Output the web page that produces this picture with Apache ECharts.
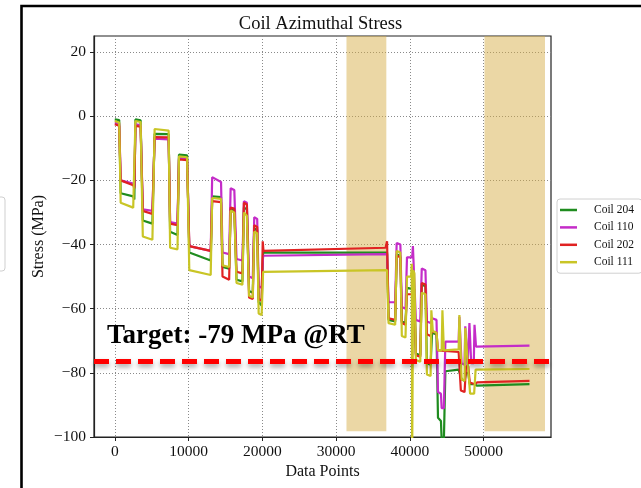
<!DOCTYPE html>
<html>
<head>
<meta charset="utf-8">
<script src="https://cdn.jsdelivr.net/npm/echarts@6/dist/echarts.min.js"></script>
<style>
  html, body { margin: 0; padding: 0; background: #fff; }
  #chart { width: 641px; height: 488px; }
</style>
</head>
<body>
<div id="chart"></div>
<script>
// ---- data ----
var seriesNames = ['Coil 204', 'Coil 110', 'Coil 202', 'Coil 111'];
var xTicks = [0, 10000, 20000, 30000, 40000, 50000];
var yTicks = [-100, -80, -60, -40, -20, 0, 20];
var shadedRanges = [[31400, 36800], [50100, 58300]];
var shadedTop = 25;
var shadedBottom = -98.2;
var targetValue = -76.5;

var coil204 = [
  [0,-1],[600,-1.2],
  [800,-24],[2500,-25],[2650,-26],
  [2800,-1],[3500,-1.3],
  [3800,-32.5],[5100,-33.5],
  [5400,-5.5],[7300,-5.6],
  [7500,-36],[8500,-37],
  [8700,-12],[9800,-12.2],
  [10100,-42.5],[13000,-45],
  [13200,-25],[14400,-25.2],
  [14600,-47],[15500,-47.5],
  [15700,-29],[16200,-29.2],
  [16500,-51],[17300,-51.5],
  [17500,-28.5],[17900,-29],
  [18200,-54.5],[18700,-55],
  [18900,-35],[19300,-35.5],
  [19500,-58],[19900,-59],
  [20100,-42.5],[36900,-42.5],
  [37100,-63.5],[38000,-64],
  [38200,-43],[38700,-43.5],
  [38900,-64],[39400,-64.5],
  [39600,-53.5],[40600,-54],
  [40800,-74],[41400,-74.5],
  [41600,-52.5],[42100,-53],
  [42300,-77],[42800,-77.5],
  [43000,-67.5],[43600,-68],
  [43800,-94],[44200,-95],[44300,-101],[44600,-101],
  [44800,-79.5],[46600,-79],
  [47000,-82],[47400,-82.5],
  [47600,-80],[47900,-80],
  [48100,-83.5],[48700,-83.5],
  [49100,-84],[56200,-83.5]
];
var coil110 = [
  [0,-2],[600,-2.3],
  [800,-20],[2500,-21],[2650,-22],
  [2800,-2.5],[3500,-2.8],
  [3800,-29],[5100,-29.5],
  [5400,-7],[7300,-7.2],
  [7500,-33],[8500,-33.5],
  [8700,-13],[9800,-13.2],
  [10100,-40.5],[13000,-42],
  [13200,-19],[14400,-20.5],
  [14600,-42.5],[15500,-43],
  [15700,-22.5],[16200,-23],
  [16500,-44.5],[17300,-45],
  [17500,-26.5],[17900,-27],
  [18200,-50],[18700,-50.5],
  [18900,-31.5],[19300,-32],
  [19500,-53],[19900,-53.5],
  [20100,-43.5],[36900,-43],
  [37100,-58],[38000,-58],
  [38200,-39.5],[38700,-40],
  [38900,-59.5],[39400,-60],
  [39600,-44],[40300,-44],[40400,-40.5],[40600,-40.5],
  [40800,-63.5],[41400,-64],
  [41600,-47.5],[42100,-48],
  [42300,-64],[42800,-64.5],
  [43000,-63],[43600,-63.5],
  [43800,-86],[44200,-86.5],[44300,-91],[44600,-91],
  [44800,-70.3],[46600,-70.3],
  [46700,-62.5],[46800,-63],
  [47000,-77],[47400,-77.5],
  [47500,-65.5],[47600,-66],
  [47800,-78],[47950,-78],
  [48060,-64.5],[48150,-65],
  [48300,-77],[48650,-77],
  [48750,-65],[48850,-65.5],
  [48950,-71.8],[56200,-71.5]
];
var coil202 = [
  [0,-2.5],[600,-3],
  [800,-20],[2500,-21.5],[2650,-22.5],
  [2800,-3],[3500,-3.3],
  [3800,-29.5],[5100,-30.5],
  [5400,-6.5],[7300,-6.6],
  [7500,-33.5],[8500,-34],
  [8700,-13.5],[9800,-13.7],
  [10100,-40.5],[13000,-42],
  [13200,-26.5],[14400,-26.8],
  [14600,-50],[15500,-51],
  [15700,-28.5],[16200,-28.8],
  [16500,-48.5],[17300,-49],
  [17500,-27],[17900,-27.5],
  [18200,-56.5],[18700,-57],
  [18900,-34],[19300,-34.5],
  [19500,-57],[19900,-57.5],
  [20050,-39],[20150,-42],[36700,-41],[36900,-39],
  [37100,-63],[38000,-63.5],
  [38200,-43.5],[38700,-44],
  [38900,-64.5],[39400,-65],
  [39600,-55.5],[40600,-55.5],
  [40800,-74.5],[41400,-75],
  [41600,-52],[42100,-52.5],
  [42300,-68],[42800,-68.5],
  [43000,-67],[43600,-67.5],
  [43800,-73],[46600,-73.5],
  [46900,-85.5],[47400,-86],
  [47600,-78],[47900,-78],
  [48100,-83],[48700,-83.5],
  [49100,-83],[56200,-82.5]
];
var coil111 = [
  [0,-1.5],[600,-2],
  [800,-27],[2500,-28.5],[2650,-29],
  [2800,-1.5],[3500,-1.8],
  [3800,-37.5],[5100,-38.5],
  [5400,-4],[7300,-4.5],
  [7500,-41],[8500,-41.5],
  [8700,-12.5],[9800,-12.8],
  [10100,-48],[13000,-49.5],
  [13200,-25.5],[14400,-25.8],
  [14600,-46.5],[15500,-47],
  [15700,-29.5],[16200,-30],
  [16500,-52],[17300,-52.5],
  [17500,-30],[17900,-31],
  [18200,-56],[18700,-56.5],
  [18900,-36],[19300,-36.5],
  [19500,-61.5],[19900,-62],
  [20100,-48.5],[36900,-48],
  [37100,-64.5],[38000,-65],
  [38200,-42],[38700,-42.5],
  [38900,-68.5],[39400,-69],
  [39600,-50],[40150,-50],[40250,-46],[40300,-106],[40400,-106],[40450,-48],[40600,-49],
  [40800,-76],[41400,-76.5],
  [41600,-55],[42100,-55.5],
  [42300,-80.5],[42800,-81],
  [42900,-60.5],[43000,-60.5],
  [43100,-67],[43600,-67.5],
  [43800,-73],[44300,-73],[44400,-60.5],[44500,-60.5],[44600,-73],
  [44800,-72.7],[46600,-72.7],
  [46700,-62],[46800,-62],
  [47000,-82],[47400,-82.5],
  [47500,-66],[47650,-66],
  [47800,-76],[48000,-76],
  [48150,-86.5],[48700,-86.5],
  [48900,-79],[56200,-78.8]
];
var seriesData = [coil204, coil110, coil202, coil111];
var seriesColors = ['#1f8c1f', '#c42cc8', '#e02222', '#c9c526'];

// ---- chart ----
var serif = '"Liberation Serif", "DejaVu Serif", serif';
var chart = echarts.init(document.getElementById('chart'), null, { renderer: 'canvas' });

var series = seriesNames.map(function (name, i) {
  return {
    name: name,
    type: 'line',
    data: seriesData[i],
    showSymbol: false,
    symbol: 'none',
    lineStyle: { width: 2.2, color: seriesColors[i] },
    itemStyle: { color: seriesColors[i] },
    z: 5 + i
  };
});
series[3].markLine = {
  silent: true,
  symbol: 'none',
  z: 12,
  label: { show: false },
  lineStyle: {
    color: '#ff0000', width: 5, type: [15, 7],
    shadowBlur: 5, shadowColor: 'rgba(0,0,0,0.35)', shadowOffsetY: 3
  },
  data: [{ yAxis: targetValue }]
};
series.unshift({
  name: 'shade',
  type: 'custom',
  z: 1,
  silent: true,
  clip: true,
  encode: { x: [0, 1] },
  data: shadedRanges,
  renderItem: function (params, api) {
    var p0 = api.coord([api.value(0), shadedTop]);
    var p1 = api.coord([api.value(1), shadedBottom]);
    return {
      type: 'rect',
      shape: { x: p0[0], y: p0[1], width: p1[0] - p0[0], height: p1[1] - p0[1] },
      style: { fill: 'rgba(214,172,66,0.48)' }
    };
  }
});

var minus = function (v) { return String(v).replace('-', '\u2212'); };

chart.setOption({
  animation: false,
  backgroundColor: '#fff',
  title: {
    text: 'Coil Azimuthal Stress',
    left: 'center',
    top: 10,
    textStyle: { fontFamily: serif, fontSize: 18.5, fontWeight: 'normal', color: '#111' }
  },
  legend: {
    orient: 'vertical',
    left: 557,
    top: 199,
    data: seriesNames,
    icon: 'rect',
    itemWidth: 17,
    itemHeight: 2.5,
    itemGap: 5.4,
    padding: [5, 8, 5, 3],
    backgroundColor: '#fff',
    borderColor: '#d0d0d0',
    borderWidth: 1,
    borderRadius: 3,
    textStyle: { fontFamily: serif, fontSize: 11.5, color: '#111', padding: [0, 0, 0, 12] }
  },
  grid: {
    left: 94, right: 90, top: 36, bottom: 51,
    show: true, borderColor: '#222', borderWidth: 1.2, backgroundColor: 'transparent'
  },
  xAxis: {
    type: 'value',
    min: -2815, max: 59115,
    name: 'Data Points',
    nameLocation: 'middle',
    nameGap: 27,
    nameMoveOverlap: false,
    nameTextStyle: { fontFamily: serif, fontSize: 16, color: '#111' },
    axisLine: { show: true, onZero: false, lineStyle: { color: '#222', width: 1.2 } },
    axisTick: { show: true, length: 4, customValues: xTicks, lineStyle: { color: '#222' } },
    axisLabel: { customValues: xTicks, margin: 7, fontFamily: serif, fontSize: 15.5, color: '#111',
      formatter: function (v) { return String(v); } },
    splitLine: { show: true, lineStyle: { color: '#8a8a8a', width: 1, type: [1, 2] } }
  },
  yAxis: {
    type: 'value',
    min: -100, max: 25,
    name: 'Stress (MPa)',
    nameLocation: 'middle',
    nameGap: 47,
    nameMoveOverlap: false,
    nameTextStyle: { fontFamily: serif, fontSize: 16, color: '#111' },
    axisLine: { show: true, onZero: false, lineStyle: { color: '#222', width: 1.2 } },
    axisTick: { show: true, length: 4, customValues: yTicks, lineStyle: { color: '#222' } },
    axisLabel: { customValues: yTicks, margin: 8, fontFamily: serif, fontSize: 15.5, color: '#111',
      formatter: minus },
    splitLine: { show: true, lineStyle: { color: '#8a8a8a', width: 1, type: [1, 2] } }
  },
  graphic: [
    { type: 'rect', z: 100, silent: true,
      shape: { x: 21.5, y: 6, width: 700, height: 600 },
      style: { fill: 'none', stroke: '#000', lineWidth: 2.6 } },
    { type: 'rect', z: 100, silent: true,
      shape: { x: -60, y: 197, width: 65, height: 74, r: 3 },
      style: { fill: '#fff', stroke: '#cfcfcf', lineWidth: 1 } },
    { type: 'text', z: 100, silent: true, left: 107, top: 323,
      style: { text: 'Target: -79 MPa @RT', fontFamily: serif, fontWeight: 'bold', fontSize: 27, fill: '#000' } }
  ],
  series: series
});
</script>
</body>
</html>
